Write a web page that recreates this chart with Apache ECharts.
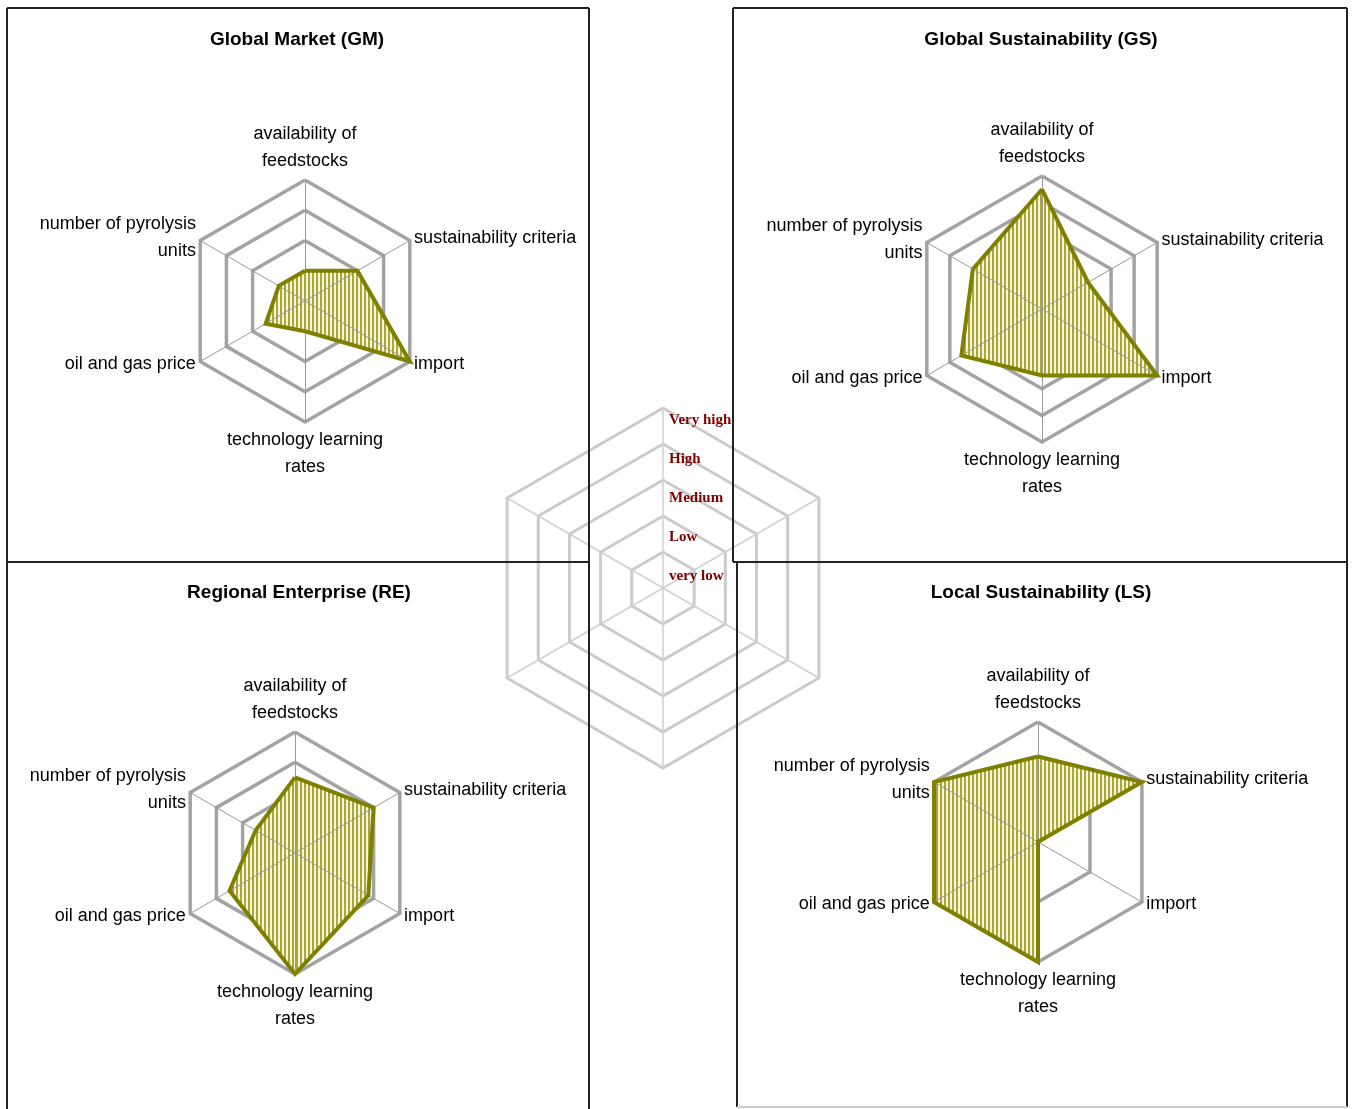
<!DOCTYPE html>
<html><head><meta charset="utf-8">
<script src="https://cdn.jsdelivr.net/npm/echarts@6/dist/echarts.min.js"></script>
<style>html,body{margin:0;padding:0;background:#fff}#c{width:1352px;height:1109px}</style>
</head><body><div id="c"></div><script>
// Categories in clockwise order starting at the top (as in the original chart)
const categories = ['availability of\nfeedstocks', 'sustainability criteria', 'import', 'technology learning\nrates', 'oil and gas price', 'number of pyrolysis\nunits'];
const panelTitles = ['Global Market (GM)', 'Global Sustainability (GS)', 'Regional Enterprise (RE)', 'Local Sustainability (LS)'];
const gmValues = [1, 2, 4, 1, 1.5, 1];
const gsValues = [4.5, 2, 5, 2.5, 3.5, 3];
const reValues = [2.5, 3, 2.8, 4, 2.5, 1.5];
const lsValues = [2.85, 4, 0, 4, 4, 4];
const scaleMax = [4, 5, 4, 4];
const scaleSplit = [4, 5, 4, 2];
const hiddenRings = [1, 2, 1, 0];
const legendLabels = ['very low', 'Low', 'Medium', 'High', 'Very high'];

const chart = echarts.init(document.getElementById('c'), null, {renderer: 'canvas'});
function ccw(a) { return [a[0]].concat(a.slice(1).reverse()); }
const catsCCW = ccw(categories);

function stripe() {
  const c = document.createElement('canvas'); c.width = 4; c.height = 6;
  const x = c.getContext('2d');
  x.fillStyle = '#f6f6e0'; x.fillRect(0, 0, 4, 6);
  x.fillStyle = '#a8a832'; x.fillRect(0, 0, 2, 6);
  return c;
}
const pattern = {image: stripe(), repeat: 'repeat'};

const layout = [
  {center: [305, 301], r: 121, tx: 297, ty: 40},
  {center: [1042, 309], r: 133, tx: 1041, ty: 40},
  {center: [295, 853], r: 121, tx: 299, ty: 593},
  {center: [1038, 842], r: 120, tx: 1041, ty: 593}
];
const allValues = [gmValues, gsValues, reValues, lsValues];
const FONT = '"Liberation Sans", Arial, sans-serif';
const ringGray = '#a3a3a3';

const radars = [];
const series = [];
// Legend radar (index 0)
const legendColors = ['rgba(0,0,0,0)'].concat(legendLabels.map(() => '#cbcbcb'));
radars.push({
  center: [663, 588], radius: 180, startAngle: 90, shape: 'polygon',
  indicator: catsCCW.map(() => ({name: '', min: 0, max: legendLabels.length})),
  splitNumber: legendLabels.length,
  axisName: {show: false},
  axisLine: {lineStyle: {color: '#d0d0d0', width: 1.5}},
  splitLine: {lineStyle: {color: legendColors, width: 3}},
  splitArea: {show: false}, z: 0
});
layout.forEach((L, k) => {
  const split = scaleSplit[k];
  const cols = [];
  for (let i = 0; i <= split; i++) cols.push(i <= hiddenRings[k] ? 'rgba(0,0,0,0)' : ringGray);
  const ind = catsCCW.map(n => ({name: n, min: 0, max: scaleMax[k]}));
  radars.push({
    center: L.center, radius: L.r, startAngle: 90, shape: 'polygon',
    indicator: ind, splitNumber: split, nameGap: 5,
    axisName: {color: '#000', fontSize: 18, fontFamily: FONT, lineHeight: 27},
    axisLine: {show: false},
    splitLine: {lineStyle: {color: cols, width: 3.5}},
    splitArea: {show: false}, z: 1
  });
});
// spoke overlays (drawn above filled polygons)
layout.forEach((L, k) => {
  radars.push({
    center: L.center, radius: L.r, startAngle: 90, shape: 'polygon',
    indicator: catsCCW.map(() => ({name: '', min: 0, max: scaleMax[k]})),
    splitNumber: scaleSplit[k],
    axisName: {show: false},
    axisLine: {lineStyle: {color: '#9a9a9a', width: 1}},
    splitLine: {show: false}, splitArea: {show: false}, z: 5
  });
});
allValues.forEach((vals, k) => {
  // hatched area
  series.push({
    type: 'radar', radarIndex: k + 1, symbol: 'none', z: 3,
    lineStyle: {color: '#808000', width: 1},
    areaStyle: {color: pattern, opacity: 1},
    data: [{value: ccw(vals), name: panelTitles[k]}]
  });
  // outline on top
  series.push({
    type: 'radar', radarIndex: k + 1, symbol: 'none', z: 6,
    lineStyle: {color: '#808000', width: 4, join: 'miter'},
    data: [{value: ccw(vals), name: panelTitles[k]}]
  });
});

const graphics = [];
layout.forEach((L, k) => {
  graphics.push({type: 'text', x: L.tx, y: L.ty, z: 50,
    style: {text: panelTitles[k], font: 'bold 19px ' + FONT, fill: '#000', textAlign: 'center', textVerticalAlign: 'middle'}});
});
const legendY = [576, 537, 498, 459, 420];
legendLabels.forEach((t, i) => {
  graphics.push({type: 'text', x: 669, y: legendY[i], z: 50,
    style: {text: t, font: 'bold 15px "Liberation Serif", "Times New Roman", serif', fill: '#800000', textAlign: 'left', textVerticalAlign: 'middle'}});
});
const bc = '#222';
function ln(x1, y1, x2, y2, c, w) {
  graphics.push({type: 'line', z: 40, shape: {x1, y1, x2, y2}, style: {stroke: c || bc, lineWidth: w || 2}});
}
// panel frames
ln(7, 8, 589, 8); ln(7, 8, 7, 1109); ln(589, 8, 589, 1109);
ln(7, 562, 589, 562);
ln(733, 8, 1347, 8); ln(733, 8, 733, 562); ln(1347, 8, 1347, 1107);
ln(733, 562, 1347, 562); ln(737, 562, 737, 1107);
ln(737, 1107, 1347, 1107, '#cfcfcf', 2);

chart.setOption({
  backgroundColor: '#fff',
  animation: false,
  radar: radars,
  series: series,
  graphic: graphics
});
</script></body></html>
